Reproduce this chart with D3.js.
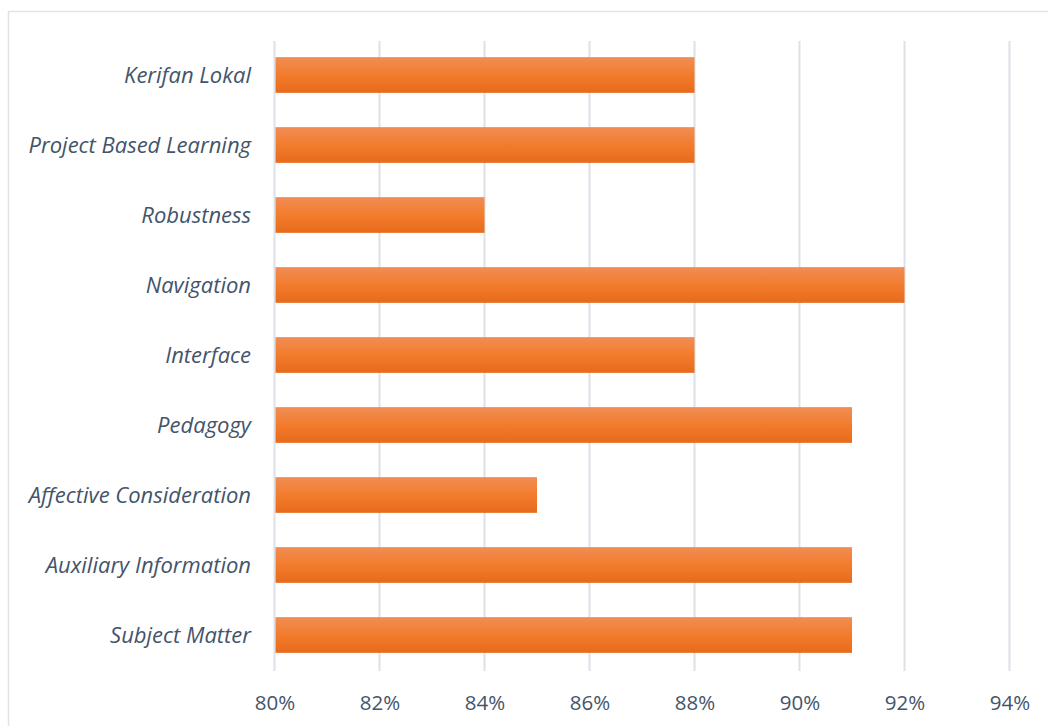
<!DOCTYPE html>
<html><head><meta charset="utf-8">
<script src="https://cdn.jsdelivr.net/npm/d3@7"></script>
<style>body{margin:0;background:#fff;}svg{display:block;}</style>
</head><body>
<svg id="c" width="1048" height="726"></svg>
<script>
const categories = ["Kerifan Lokal","Project Based Learning","Robustness","Navigation","Interface","Pedagogy","Affective Consideration","Auxiliary Information","Subject Matter"];
const values = [0.88,0.88,0.84,0.92,0.88,0.91,0.85,0.91,0.91];
const tickValues = [0.80,0.82,0.84,0.86,0.88,0.90,0.92,0.94];

const svg = d3.select("#c");
const textColor = "#44546a";
const gridColor = "#dde1e7";

svg.append("rect").attr("x",8.5).attr("y",11.5).attr("width",1100).attr("height",800)
  .attr("fill","#fff").attr("stroke","#dfe3e8").attr("stroke-width",1.5);

const defs = svg.append("defs");
const g = defs.append("linearGradient").attr("id","barGrad").attr("x1",0).attr("y1",0).attr("x2",0).attr("y2",1);
g.append("stop").attr("offset","0%").attr("stop-color","#f18d55");
g.append("stop").attr("offset","50%").attr("stop-color","#f27c2c");
g.append("stop").attr("offset","100%").attr("stop-color","#e86a1b");

const x = d3.scaleLinear().domain([0.80,0.94]).range([274.5,1009.5]);
const y = d3.scaleBand().domain(categories).range([40,670]).paddingInner(0.49).paddingOuter(0.245);

// gridlines
svg.append("g").selectAll("line").data(tickValues).join("line")
  .attr("x1",d=>x(d)).attr("x2",d=>x(d)).attr("y1",41).attr("y2",671)
  .attr("stroke",gridColor).attr("stroke-width",2);

// bars
svg.append("g").selectAll("rect").data(categories).join("rect")
  .attr("x",x(0.80)+1).attr("y",d=>y(d))
  .attr("width",(d,i)=>x(values[i])-x(0.80)-1)
  .attr("height",y.bandwidth())
  .attr("fill","url(#barGrad)");

// x axis labels
const xAxis = d3.axisBottom(x).tickValues(tickValues).tickFormat(d3.format(".0%")).tickSize(0).tickPadding(0);
const xa = svg.append("g").attr("transform","translate(0,703)").call(xAxis);
xa.select(".domain").remove();
xa.selectAll("text").attr("fill",textColor).attr("font-family","'Open Sans', sans-serif").attr("font-size","20.5px").attr("dy","0.35em");

// y axis labels
const yAxis = d3.axisLeft(y).tickSize(0).tickPadding(0);
const ya = svg.append("g").attr("transform","translate(251,0)").call(yAxis);
ya.select(".domain").remove();
ya.selectAll("text").attr("fill",textColor).attr("font-family","'Open Sans', sans-serif").attr("font-style","italic").attr("font-size","22px").attr("dy","0.35em");
</script>
</body></html>
